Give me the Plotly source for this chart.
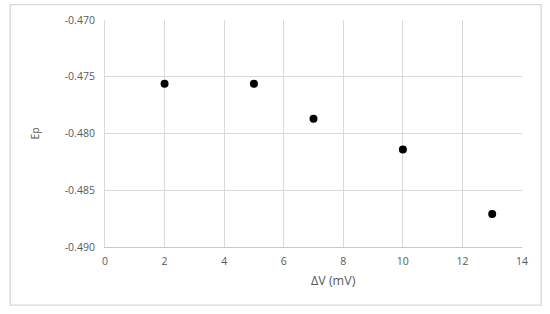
import plotly.graph_objects as go

dv = [2, 5, 7, 10, 13]
ep = [-0.47562, -0.47562, -0.47871, -0.48142, -0.48709]
x_ticks = [0, 2, 4, 6, 8, 10, 12, 14]
y_ticks = [-0.470, -0.475, -0.480, -0.485, -0.490]

W, H = 550, 314
ml, mr, mt, mb = 104.5, 27.7, 20.3, 67
pw, ph = W - ml - mr, H - mt - mb

fig = go.Figure()
fig.add_trace(go.Scatter(x=dv, y=ep, mode="markers",
                         marker=dict(color="black", size=8),
                         showlegend=False))

grid = "#d9d9d9"
txt = "#595959"
font_fam = "Open Sans, Lato, sans-serif"
fig.update_layout(
    width=W, height=H,
    margin=dict(l=ml, r=mr, t=mt, b=mb, pad=0, autoexpand=False),
    paper_bgcolor="white", plot_bgcolor="white",
    font=dict(family=font_fam, color=txt, size=10),
    xaxis=dict(range=[0, 14], tickvals=x_ticks,
               ticktext=[str(v) for v in x_ticks],
               showgrid=True, gridcolor=grid, gridwidth=1,
               showline=True, linecolor="#c8c8c8", linewidth=1,
               zeroline=False, ticks="", ticklen=0, ticklabelstandoff=4,
               tickfont=dict(size=10.5, color=txt), automargin=False),
    yaxis=dict(range=[-0.490, -0.470], tickvals=y_ticks,
               ticktext=[f"{v:.3f}" for v in y_ticks],
               showgrid=True, gridcolor=grid, gridwidth=1,
               showline=True, linecolor=grid, linewidth=1,
               zeroline=False, ticks="", ticklen=0, ticklabelstandoff=7,
               tickfont=dict(size=10.5, color=txt), automargin=False),
    annotations=[
        dict(text="ΔV (mV)", xref="paper", yref="paper",
             x=(333 - ml) / pw, y=(H - mb - 280) / ph,
             xanchor="center", yanchor="middle", showarrow=False,
             font=dict(size=12.5, color=txt)),
        dict(text="Ep", xref="paper", yref="paper",
             x=(34 - ml) / pw, y=(H - mb - 134) / ph, textangle=-90,
             xanchor="center", yanchor="middle", showarrow=False,
             font=dict(size=10.5, color=txt)),
    ],
)

# outer chart-area border
fig.add_shape(type="rect", xref="paper", yref="paper",
              x0=(9.5 - ml) / pw, x1=(541.5 - ml) / pw,
              y0=(H - mb - 305) / ph, y1=(H - mb - 5) / ph,
              line=dict(color="#d9d9d9", width=1.3), fillcolor="rgba(0,0,0,0)",
              layer="below")

fig.write_html("out.html", config={"displayModeBar": False},
               post_script="document.body.style.margin='0';")
